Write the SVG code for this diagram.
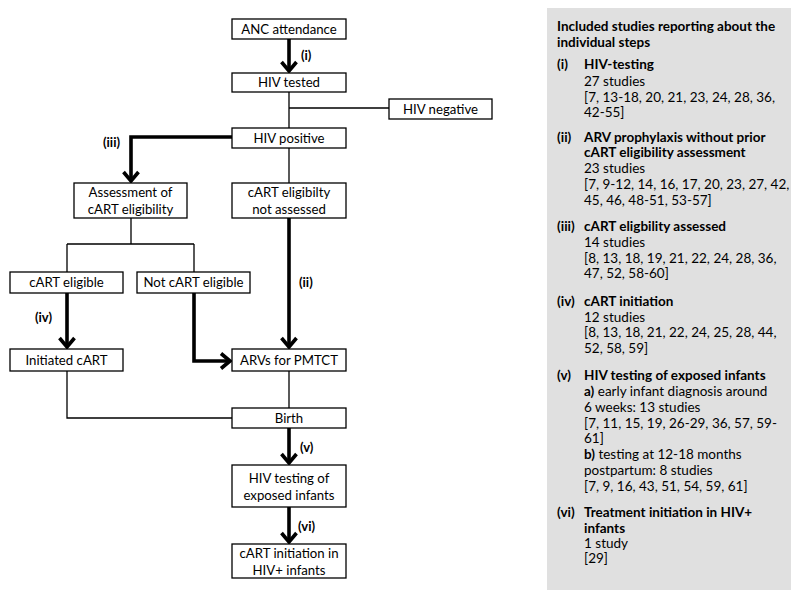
<svg xmlns="http://www.w3.org/2000/svg" width="800" height="601" viewBox="0 0 800 601">
<style>
.box{fill:#fff;stroke:#000;stroke-width:1.3}
.t{font-family:Lato,"Liberation Sans",sans-serif;font-size:13.2px;fill:#000;text-anchor:middle}
.lbl{font-family:Lato,"Liberation Sans",sans-serif;font-size:13px;font-weight:bold;fill:#000}
.thin{fill:none;stroke:#000;stroke-width:1.3}
.thick{fill:none;stroke:#000;stroke-width:3.6;marker-end:url(#ah)}
.p{font-family:Lato,"Liberation Sans",sans-serif;font-size:13.5px;fill:#000}
.pb{font-weight:bold}
</style>
<defs>
<marker id="ah" markerUnits="userSpaceOnUse" viewBox="-14 -12 16 24" refX="0" refY="0" markerWidth="16" markerHeight="24" orient="auto">
<path d="M-9,-7.5 L0,0 L-9,7.5" fill="none" stroke="#000" stroke-width="3.6"/>
</marker>
</defs>
<rect width="800" height="601" fill="#fff"/>
<g id="connectors">
<path class="thick" d="M289,39 V71"/>
<path class="thin" d="M289,92 V128 M289,108 H389"/>
<path class="thick" d="M232,137 H131 V181"/>
<path class="thin" d="M289,148 V183"/>
<path class="thin" d="M131,218 V244 M67,244 H194 M67,244 V272 M194,244 V272"/>
<path class="thick" d="M67,293 V347"/>
<path class="thick" d="M194,293 V361 H230"/>
<path class="thick" d="M289,218 V347"/>
<path class="thin" d="M67,371 V418 H232"/>
<path class="thin" d="M289,371 V408"/>
<path class="thick" d="M289,428 V463"/>
<path class="thick" d="M289,507 V542"/>
<text class="lbl" x="301" y="60">(i)</text>
<text class="lbl" x="103" y="147">(iii)</text>
<text class="lbl" x="299" y="287">(ii)</text>
<text class="lbl" x="35" y="322">(iv)</text>
<text class="lbl" x="300" y="452">(v)</text>
<text class="lbl" x="298" y="531">(vi)</text>
</g>
<g id="n-anc"><rect class="box" x="232" y="19" width="114" height="20"/><text class="t" x="289" y="33.5">ANC attendance</text></g>
<g id="n-tested"><rect class="box" x="232" y="73" width="114" height="19"/><text class="t" x="289" y="87">HIV tested</text></g>
<g id="n-negative"><rect class="box" x="389" y="99" width="103" height="20"/><text class="t" x="440.5" y="113.5">HIV negative</text></g>
<g id="n-positive"><rect class="box" x="232" y="128" width="114" height="20"/><text class="t" x="289" y="142.5">HIV positive</text></g>
<g id="n-assess"><rect class="box" x="74" y="183" width="113" height="35"/><text class="t" x="130.5" y="197">Assessment of</text><text class="t" x="130.5" y="214">cART eligibility</text></g>
<g id="n-notassessed"><rect class="box" x="232" y="183" width="114" height="35"/><text class="t" x="289" y="197">cART eligibilty</text><text class="t" x="289" y="214">not assessed</text></g>
<g id="n-eligible"><rect class="box" x="10" y="272" width="113" height="21"/><text class="t" x="66.5" y="287">cART eligible</text></g>
<g id="n-noteligible"><rect class="box" x="137" y="272" width="113" height="21"/><text class="t" x="193.5" y="287">Not cART eligible</text></g>
<g id="n-initiated"><rect class="box" x="10" y="349" width="113" height="22"/><text class="t" x="66.5" y="364.5">Initiated cART</text></g>
<g id="n-arvs"><rect class="box" x="232" y="349" width="114" height="22"/><text class="t" x="289" y="364.5">ARVs for PMTCT</text></g>
<g id="n-birth"><rect class="box" x="232" y="408" width="114" height="20"/><text class="t" x="289" y="422.5">Birth</text></g>
<g id="n-testinf"><rect class="box" x="232" y="465" width="114" height="42"/><text class="t" x="289" y="483">HIV testing of</text><text class="t" x="289" y="500">exposed infants</text></g>
<g id="n-cartinf"><rect class="box" x="232" y="544" width="114" height="34"/><text class="t" x="289" y="558">cART initiation in</text><text class="t" x="289" y="575">HIV+ infants</text></g>
<g id="panel">
<rect x="547" y="8" width="244" height="582" fill="#e0e0e0"/>
<text class="p pb" x="557" y="31">Included studies reporting about the</text>
<text class="p pb" x="557" y="47">individual steps</text>
<text class="p pb" x="557" y="69">(i)</text><text class="p pb" x="584" y="69">HIV-testing</text>
<text class="p" x="584" y="86">27 studies</text>
<text class="p" x="584" y="102">[7, 13-18, 20, 21, 23, 24, 28, 36,</text>
<text class="p" x="584" y="117">42-55]</text>
<text class="p pb" x="557" y="142">(ii)</text><text class="p pb" x="584" y="142">ARV prophylaxis without prior</text>
<text class="p pb" x="584" y="157">cART eligibility assessment</text>
<text class="p" x="584" y="173">23 studies</text>
<text class="p" x="584" y="189">[7, 9-12, 14, 16, 17, 20, 23, 27, 42,</text>
<text class="p" x="584" y="205">45, 46, 48-51, 53-57]</text>
<text class="p pb" x="557" y="231">(iii)</text><text class="p pb" x="584" y="231">cART eligbility assessed</text>
<text class="p" x="584" y="247">14 studies</text>
<text class="p" x="584" y="263">[8, 13, 18, 19, 21, 22, 24, 28, 36,</text>
<text class="p" x="584" y="278">47, 52, 58-60]</text>
<text class="p pb" x="557" y="306">(iv)</text><text class="p pb" x="584" y="306">cART initiation</text>
<text class="p" x="584" y="322">12 studies</text>
<text class="p" x="584" y="337">[8, 13, 18, 21, 22, 24, 25, 28, 44,</text>
<text class="p" x="584" y="353">52, 58, 59]</text>
<text class="p pb" x="557" y="380">(v)</text><text class="p pb" x="584" y="380">HIV testing of exposed infants</text>
<text class="p" x="584" y="396"><tspan class="pb">a)</tspan> early infant diagnosis around</text>
<text class="p" x="584" y="412">6 weeks: 13 studies</text>
<text class="p" x="584" y="428">[7, 11, 15, 19, 26-29, 36, 57, 59-</text>
<text class="p" x="584" y="443">61]</text>
<text class="p" x="584" y="459"><tspan class="pb">b)</tspan> testing at 12-18 months</text>
<text class="p" x="584" y="475">postpartum: 8 studies</text>
<text class="p" x="584" y="491">[7, 9, 16, 43, 51, 54, 59, 61]</text>
<text class="p pb" x="557" y="517">(vi)</text><text class="p pb" x="584" y="517">Treatment initiation in HIV+</text>
<text class="p pb" x="584" y="533">infants</text>
<text class="p" x="584" y="548">1 study</text>
<text class="p" x="584" y="563">[29]</text>
</g>
</svg>
